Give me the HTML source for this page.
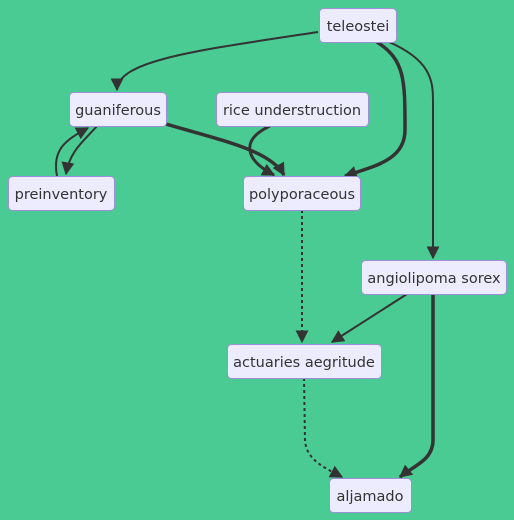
<!DOCTYPE html>
<html><head><style>
html,body{margin:0;padding:0;background:#4acb93;}
svg{display:block;}
text{font-family:"DejaVu Sans","Liberation Sans",sans-serif;font-size:14.5px;fill:#333;}
</style></head><body>
<svg width="514" height="520" viewBox="0 0 514 520">
<defs>
<marker id="ar" viewBox="0 0 10 10" refX="9" refY="5" markerWidth="13" markerHeight="13" markerUnits="userSpaceOnUse" orient="auto"><path d="M0,0L10,5L0,10z" fill="#333"/></marker>
</defs>
<g fill="none" stroke="#333">
<path d="M318,32 C200,50 117,60 117,90" stroke-width="2" marker-end="url(#ar)"/>
<path d="M377,42 C405,60 405,80 405,130 C405,160 375,166 345,176" stroke-width="3.5" marker-end="url(#ar)"/>
<path d="M389,42 C430,60 433,80 433,100 L433,258" stroke-width="2" marker-end="url(#ar)"/>
<path d="M166,124 C220,140 270,150 284,175" stroke-width="3.5" marker-end="url(#ar)"/>
<path d="M270,126 C240,140 245,160 274,175" stroke-width="3" marker-end="url(#ar)"/>
<path d="M97,126 C85,140 70,150 66,174" stroke-width="2" marker-end="url(#ar)"/>
<path d="M57,176 C52,150 65,140 88,128" stroke-width="2" marker-end="url(#ar)"/>
<path d="M302,210 L302,342" stroke-width="2" stroke-dasharray="3,3" marker-end="url(#ar)"/>
<path d="M407,294 L332,342" stroke-width="2" marker-end="url(#ar)"/>
<path d="M433,294 L433,440 C433,460 415,465 400,477" stroke-width="3.5" marker-end="url(#ar)"/>
<path d="M304,378 L305,440 C306,460 325,468 342,477" stroke-width="2" stroke-dasharray="3,3" marker-end="url(#ar)"/>
</g>
<g fill="#ececfe" stroke="#9f8fd8" stroke-width="1">
<rect x="319.5" y="8.5" width="77" height="34" rx="4"/>
<rect x="69.5" y="92.5" width="97" height="34" rx="4"/>
<rect x="216.5" y="92.5" width="152" height="34" rx="4"/>
<rect x="8.5" y="176.5" width="106" height="34" rx="4"/>
<rect x="243.5" y="176.5" width="117" height="34" rx="4"/>
<rect x="361.5" y="260.5" width="145" height="34" rx="4"/>
<rect x="227.5" y="344.5" width="154" height="34" rx="4"/>
<rect x="329.5" y="478.5" width="82" height="34" rx="4"/>
</g>
<g text-anchor="middle">
<text x="358" y="31">teleostei</text>
<text x="118" y="115">guaniferous</text>
<text x="292" y="115">rice understruction</text>
<text x="61" y="199">preinventory</text>
<text x="302" y="199">polyporaceous</text>
<text x="434" y="283">angiolipoma sorex</text>
<text x="304" y="367">actuaries aegritude</text>
<text x="370" y="501">aljamado</text>
</g>
</svg>
</body></html>
